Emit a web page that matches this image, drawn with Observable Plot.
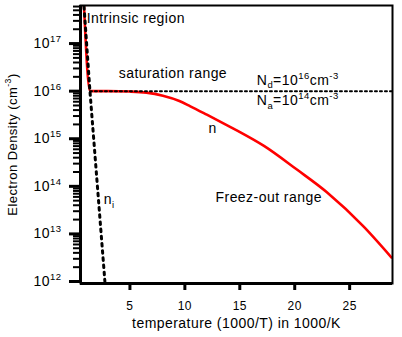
<!DOCTYPE html>
<html>
<head>
<meta charset="utf-8">
<script src="https://cdn.jsdelivr.net/npm/d3@7"></script>
<script src="https://cdn.jsdelivr.net/npm/@observablehq/plot@0.6"></script>
<style>
  html, body { margin: 0; padding: 0; background: white; }
  #chart svg text { letter-spacing: 0.45px; }
</style>
</head>
<body>
<div id="chart"></div>
<script>
// ---- data ----
const nX = [0.82, 1.36, 3, 5, 6.5, 8, 9.5, 10.5, 12, 14.2, 15.1, 17.2, 20.2, 22.9, 26.3, 28.8];
const nY = [6.0e17, 1.0e16, 1.0e16, 9.8e15, 9.3e15, 8.0e15, 6.2e15, 4.8e15, 3.2e15, 1.74e15, 1.35e15, 7.1e14, 2.25e14, 7.6e13, 1.4e13, 3.2e12];

const niX = [0.82, 1.36, 2.04, 2.72];
const niY = [6.0e17, 1.0e16, 1.0e14, 1.0e12];

const satX = [1.36, 28.9];
const satY = [1.0e16, 1.0e16];

const xTicks = [5, 10, 15, 20, 25];
const yMajor = [1e12, 1e13, 1e14, 1e15, 1e16, 1e17];

const xLabel = "temperature (1000/T) in 1000/K";
const yLabel = "Electron Density (cm^{-3})";

const notes = [
  {x: 1.06, y: 3.44e17, text: "Intrinsic region"},
  {x: 3.98, y: 2.38e16, text: "saturation range"},
  {x: 16.55, y: 1.7e16, text: "N_{d}=10^{16}cm^{-3}"},
  {x: 16.55, y: 6.3e15, text: "N_{a}=10^{14}cm^{-3}"},
  {x: 12.15, y: 1.68e15, text: "n"},
  {x: 12.79, y: 5.8e13, text: "Freez-out range"},
  {x: 2.62, y: 5.2e13, text: "n_{i}"}
];

// ---- tables for the library ----
const nData = nX.map((x, i) => ({x, y: nY[i]}));
const niData = niX.map((x, i) => ({x, y: niY[i]}));
const satData = satX.map((x, i) => ({x, y: satY[i]}));

const xDomain = [0.5, 28.9];
const yDomain = [10 ** 11.958, 10 ** 17.80];

const yMinor = [];
for (let e = 11; e <= 17; e++) for (let m = 2; m <= 9; m++) {
  const v = m * 10 ** e;
  if (v >= yDomain[0] && v <= yDomain[1]) yMinor.push(v);
}

const chart = Plot.plot({
  width: 402,
  height: 337,
  marginLeft: 80,
  marginRight: 10,
  marginTop: 5,
  marginBottom: 54,
  x: {domain: xDomain},
  y: {type: "log", domain: yDomain},
  style: {fontFamily: "'Liberation Sans', Arial, sans-serif", background: "white", color: "black"},
  marks: [
    Plot.line(nData, {x: "x", y: "y", stroke: "#ff0000", strokeWidth: 2.6, curve: "monotone-x", clip: true}),
    Plot.line(satData, {x: "x", y: "y", stroke: "black", strokeWidth: 2, strokeDasharray: "2,3", clip: true}),
    Plot.line(niData, {x: "x", y: "y", stroke: "black", strokeWidth: 3, strokeDasharray: "2.6,4.6", clip: true}),
    Plot.frame({stroke: "black", strokeWidth: 2}),
    Plot.ruleX([xDomain[0]], {stroke: "black", strokeWidth: 3}),
    Plot.ruleY([yDomain[0]], {stroke: "black", strokeWidth: 3}),
    Plot.axisY(yMinor, {tickSize: 7, strokeWidth: 2, tickFormat: () => "", label: null}),
    Plot.axisY(yMajor, {tickSize: 11, strokeWidth: 3, tickPadding: 8, fontSize: 14,
      tickFormat: d => `10^{${Math.round(Math.log10(d))}}`, label: null}),
    Plot.axisX(xTicks, {tickSize: 7, strokeWidth: 3, tickPadding: 11, fontSize: 12, label: null}),
    Plot.text([xLabel], {frameAnchor: "bottom", lineAnchor: "middle", textAnchor: "middle", dy: 40, fontSize: 14, text: d => d}),
    Plot.text([yLabel], {frameAnchor: "left", lineAnchor: "middle", textAnchor: "middle", dx: -68, rotate: -90, fontSize: 13, text: d => d}),
    Plot.text(notes, {x: "x", y: "y", text: "text", textAnchor: "start", lineAnchor: "middle", fontSize: 14})
  ]
});

document.getElementById("chart").appendChild(chart);

// turn ^{..} and _{..} into real superscript / subscript tspans
const NS = "http://www.w3.org/2000/svg";
for (const t of chart.querySelectorAll("text")) {
  const s = t.textContent;
  if (!/[\^_]\{/.test(s)) continue;
  const base = parseFloat(getComputedStyle(t).fontSize) || 14;
  while (t.firstChild) t.removeChild(t.firstChild);
  const re = /([\^_])\{([^}]*)\}|([^\^_]+)/g;
  let m, shift = 0;
  while ((m = re.exec(s))) {
    const ts = document.createElementNS(NS, "tspan");
    if (m[3] !== undefined) {
      ts.textContent = m[3];
      if (shift) ts.setAttribute("dy", -shift);
      shift = 0;
    } else {
      const up = m[1] === "^";
      const d = up ? -0.43 * base : 0.25 * base;
      ts.textContent = m[2];
      ts.setAttribute("font-size", (0.68 * base).toFixed(1));
      ts.setAttribute("dy", (d - shift).toFixed(1));
      shift = d;
    }
    t.appendChild(ts);
  }
}
</script>
</body>
</html>
